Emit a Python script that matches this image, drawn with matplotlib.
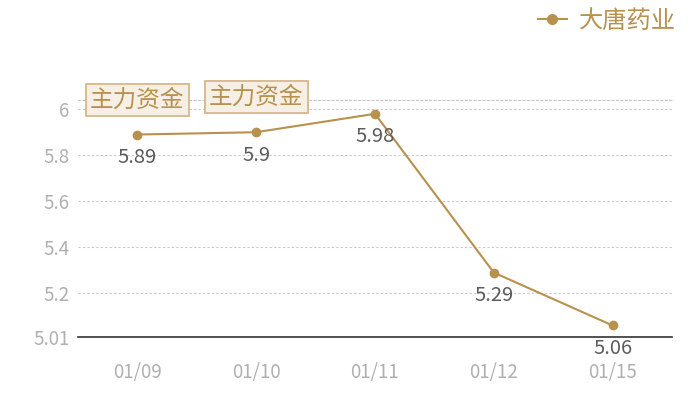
import matplotlib
matplotlib.use("Agg")
import matplotlib.pyplot as plt
from matplotlib.lines import Line2D

plt.rcParams['font.family'] = ['Noto Sans CJK SC', 'DejaVu Sans']

dates = ["01/09", "01/10", "01/11", "01/12", "01/15"]
prices = [5.89, 5.9, 5.98, 5.29, 5.06]
series_name = "大唐药业"
flag_text = "主力资金"
flag_idx = [0, 1]
flag_y = [6.041, 6.052]
y_ticks = [5.01, 5.2, 5.4, 5.6, 5.8, 6]
y_tick_labels = ["5.01", "5.2", "5.4", "5.6", "5.8", "6"]

gold = "#b8914f"
x = list(range(len(dates)))

fig = plt.figure(figsize=(7, 4), dpi=100)
ax = fig.add_axes([0.1114, 0.1575, 0.8486, 0.5925])

ax.plot(x, prices, color=gold, lw=1.5, marker="o", ms=6, zorder=3)
for xi, v in zip(x, prices):
    ax.annotate(f"{v:g}", (xi, v), xytext=(0, -9), textcoords="offset points",
                ha="center", va="top", fontsize=14.5, color="#5c5c5c")

for i, fy in zip(flag_idx, flag_y):
    ax.text(i, fy, flag_text, ha="center", va="center", fontsize=17, color=gold,
            clip_on=False, zorder=4,
            bbox=dict(boxstyle="square,pad=0.18", fc="#f5efe6", ec="#d6b888", lw=1.3))

ax.set_xlim(-0.5, len(dates) - 0.5)
ax.set_ylim(5.01, 6.04)
ax.set_xticks(x)
ax.set_xticklabels(dates)
ax.set_yticks(y_ticks)
ax.set_yticklabels(y_tick_labels)
ax.tick_params(length=0, colors="#b0b0b0", labelsize=13.5)
ax.tick_params(axis="x", pad=18)
ax.tick_params(axis="y", pad=6)
ax.grid(axis="y", color="#c8c8c8", ls=(0, (2, 2)), lw=0.8)

for s in ["left", "right"]:
    ax.spines[s].set_visible(False)
ax.spines["bottom"].set_color("#333333")
ax.spines["bottom"].set_linewidth(1.2)
ax.spines["top"].set_color("#c8c8c8")
ax.spines["top"].set_linestyle((0, (2, 2)))
ax.spines["top"].set_linewidth(0.8)

handle = Line2D([], [], color=gold, marker="o", ms=7, lw=1.5)
fig.legend([handle], [series_name], loc="upper right", bbox_to_anchor=(0.997, 1.035),
           frameon=False, fontsize=17.5, labelcolor=gold, handlelength=1.2,
           handletextpad=0.5)

fig.savefig("out.png", dpi=100)
